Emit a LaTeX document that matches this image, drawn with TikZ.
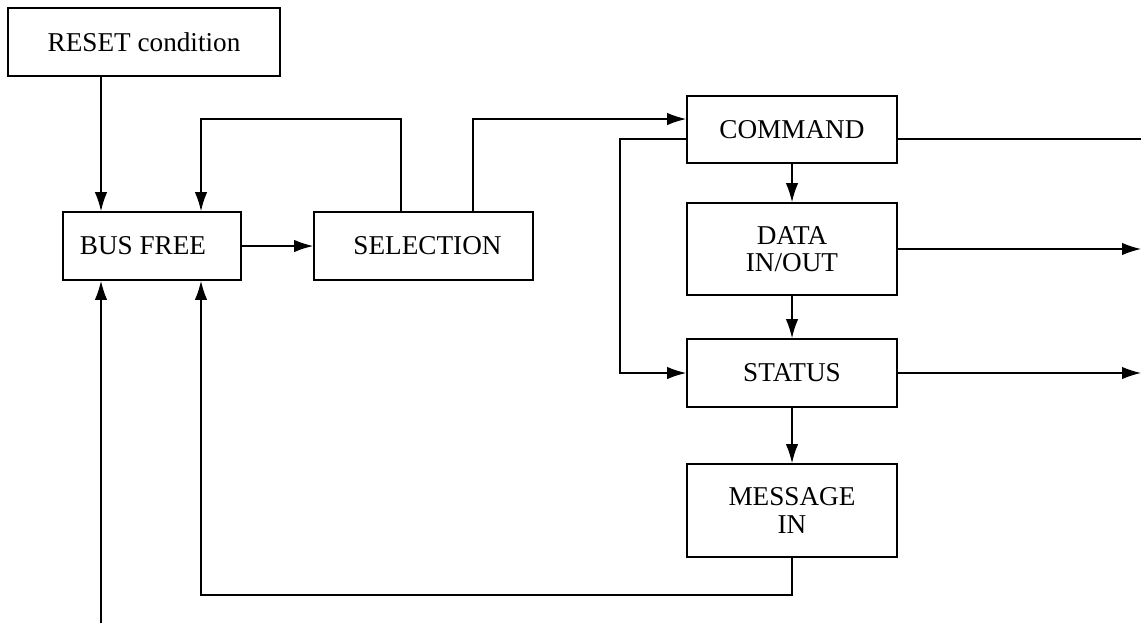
\documentclass[tikz,border=0pt]{standalone}
\usepackage{fontspec}
\setmainfont{Liberation Serif}
\usetikzlibrary{arrows.meta, positioning}

\tikzset{
    phase/.style={draw, black, line width=0.9pt, inner sep=0pt, align=center,
        font=\fontsize{13.6}{13.6}\selectfont},
    link/.style={black, line width=0.6pt}
}

\begin{document}
\begin{tikzpicture}[>={Latex[length=9.5pt,width=6.2pt]}, x=0.5pt, y=-0.5pt]
    \useasboundingbox (0,0) rectangle (1141,623);

    % 1. Cac khoi trang thai
    \node[phase, minimum width=136pt, minimum height=34pt] (reset) at (144,42) {RESET condition};
    \node[phase, minimum width=89pt, minimum height=34pt] (busfree) at (152,246) {BUS FREE\hspace*{9pt}};
    \node[phase, minimum width=109.5pt, minimum height=34pt] (selection) at (423.5,246) {\hspace*{4pt}SELECTION};
    \node[phase, minimum width=105pt, minimum height=33.5pt] (command) at (792,129.5) {COMMAND};
    \node[phase, minimum width=105pt, minimum height=46pt] (data) at (792,249) {DATA\\IN/OUT};
    \node[phase, minimum width=105pt, minimum height=34pt] (status) at (792,373) {STATUS};
    \node[phase, minimum width=105pt, minimum height=46.5pt] (message) at (792,510.5) {MESSAGE\\IN};

    % 2. Cac toa do phu cho duong noi
    \coordinate (xa) at (101,0);
    \coordinate (xb) at (201,0);
    \coordinate (xs1) at (401,0);
    \coordinate (xs2) at (473,0);
    \coordinate (xl) at (620,0);
    \coordinate (xr) at (1141,0);
    \coordinate (ytop) at (0,119);
    \coordinate (ycmd) at (0,139);
    \coordinate (ybot) at (0,595);
    \coordinate (yin) at (0,623);

    % 3. Duong noi ben trai
    \draw[link, ->] (reset.south -| xa) -- (busfree.north -| xa);
    \draw[link, ->] (busfree) -- (selection);
    \draw[link, ->] (selection.north -| xs1) |- (ytop -| xb) -- (busfree.north -| xb);
    \draw[link, ->] (selection.north -| xs2) |- (command.west |- ytop);
    \draw[link, ->] (yin -| xa) -- (busfree.south -| xa);
    \draw[link, ->] (message.south) |- (ybot -| xb) -- (busfree.south -| xb);

    % 4. Duong noi ben phai
    \draw[link, ->] (command) -- (data);
    \draw[link, ->] (data) -- (status);
    \draw[link, ->] (status) -- (message);
    \draw[link, ->] (command.west |- ycmd) -- (xl |- ycmd) |- (status.west);
    \draw[link] (command.east |- ycmd) -- (xr |- ycmd);
    \draw[link, ->] (data.east) -- (xr |- data);
    \draw[link, ->] (status.east) -- (xr |- status);

\end{tikzpicture}
\end{document}
